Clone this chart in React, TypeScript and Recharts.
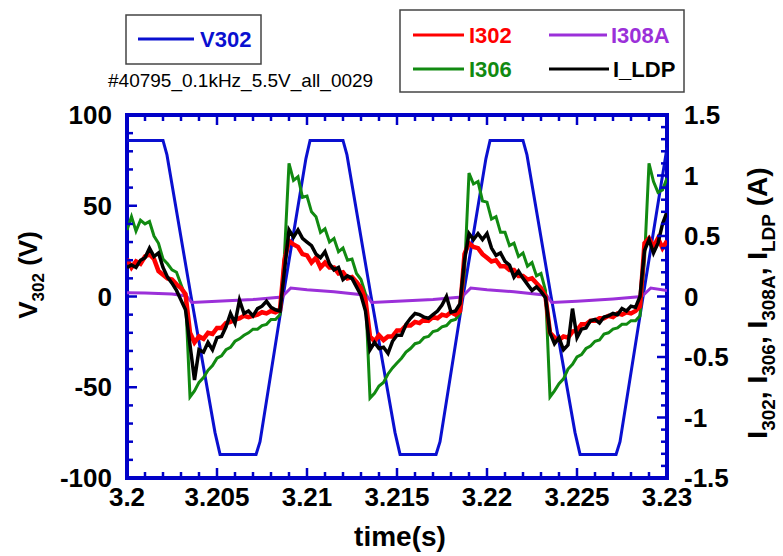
import { LineChart, Line, XAxis, YAxis, ReferenceArea } from 'recharts';

// time grid for the three current probes (s)
const tCur = [
  3.2, 3.20025, 3.2005, 3.20075, 3.201, 3.20125, 3.2015, 3.20175,
  3.202, 3.20225, 3.2025, 3.20275, 3.203, 3.20325, 3.2035, 3.20375,
  3.204, 3.20425, 3.2045, 3.20475, 3.205, 3.20525, 3.2055, 3.20575,
  3.206, 3.20625, 3.2065, 3.20675, 3.207, 3.20725, 3.2075, 3.20775,
  3.208, 3.20825, 3.2085, 3.20875, 3.209, 3.20925, 3.2095, 3.20975,
  3.21, 3.21025, 3.2105, 3.21075, 3.211, 3.21125, 3.2115, 3.21175,
  3.212, 3.21225, 3.2125, 3.21275, 3.213, 3.21325, 3.2135, 3.21375,
  3.214, 3.21425, 3.2145, 3.21475, 3.215, 3.21525, 3.2155, 3.21575,
  3.216, 3.21625, 3.2165, 3.21675, 3.217, 3.21725, 3.2175, 3.21775,
  3.218, 3.21825, 3.2185, 3.21875, 3.219, 3.21925, 3.2195, 3.21975,
  3.22, 3.22025, 3.2205, 3.22075, 3.221, 3.22125, 3.2215, 3.22175,
  3.222, 3.22225, 3.2225, 3.22275, 3.223, 3.22325, 3.2235, 3.22375,
  3.224, 3.22425, 3.2245, 3.22475, 3.225, 3.22525, 3.2255, 3.22575,
  3.226, 3.22625, 3.2265, 3.22675, 3.227, 3.22725, 3.2275, 3.22775,
  3.228, 3.22825, 3.2285, 3.22875, 3.229, 3.22925, 3.2295, 3.22975,
  3.23,
];

// I302 (A)
const i302 = [
  0.31, 0.24, 0.29, 0.27, 0.33, 0.35, 0.31, 0.21,
  0.18, 0.15, 0.14, 0.10, 0.07, 0.02, -0.30, -0.38,
  -0.33, -0.35, -0.30, -0.31, -0.26, -0.26, -0.22, -0.21,
  -0.19, -0.18, -0.16, -0.17, -0.16, -0.15, -0.13, -0.14,
  -0.12, -0.13, -0.11, 0.30, 0.46, 0.43, 0.41, 0.35,
  0.34, 0.28, 0.32, 0.24, 0.28, 0.24, 0.24, 0.19,
  0.20, 0.15, 0.16, 0.12, 0.07, -0.03, -0.33, -0.37,
  -0.32, -0.36, -0.33, -0.33, -0.28, -0.28, -0.24, -0.24,
  -0.21, -0.22, -0.19, -0.20, -0.17, -0.18, -0.15, -0.16,
  -0.13, -0.15, -0.12, 0.35, 0.44, 0.41, 0.40, 0.35,
  0.32, 0.29, 0.30, 0.25, 0.25, 0.22, 0.22, 0.17,
  0.17, 0.14, 0.15, 0.11, 0.07, 0.0, -0.30, -0.34,
  -0.36, -0.33, -0.34, -0.29, -0.28, -0.23, -0.23, -0.20,
  -0.20, -0.18, -0.18, -0.16, -0.17, -0.14, -0.15, -0.13,
  -0.14, -0.12, -0.08, 0.44, 0.48, 0.41, 0.48, 0.40,
  0.46,
];

// I306 (A)
const i306 = [
  0.55, 0.66, 0.54, 0.63, 0.60, 0.62, 0.50, 0.44,
  0.31, 0.27, 0.22, 0.20, 0.10, 0.0, -0.83, -0.78,
  -0.71, -0.67, -0.61, -0.57, -0.51, -0.49, -0.44, -0.42,
  -0.37, -0.35, -0.32, -0.30, -0.27, -0.27, -0.24, -0.23,
  -0.19, -0.19, -0.15, 0.35, 1.10, 0.96, 0.99, 0.82,
  0.83, 0.70, 0.66, 0.53, 0.56, 0.45, 0.48, 0.37,
  0.40, 0.30, 0.31, 0.19, 0.14, 0.02, -0.84, -0.80,
  -0.74, -0.71, -0.64, -0.59, -0.55, -0.51, -0.46, -0.43,
  -0.39, -0.38, -0.34, -0.33, -0.29, -0.28, -0.25, -0.24,
  -0.20, -0.19, -0.14, 0.2, 1.02, 0.93, 0.95, 0.79,
  0.78, 0.64, 0.66, 0.53, 0.53, 0.42, 0.44, 0.33,
  0.36, 0.25, 0.28, 0.17, 0.19, 0.05, -0.83, -0.78,
  -0.72, -0.68, -0.60, -0.56, -0.50, -0.48, -0.43, -0.41,
  -0.37, -0.36, -0.31, -0.30, -0.27, -0.26, -0.23, -0.23,
  -0.20, -0.20, -0.16, 0.3, 1.10, 0.95, 0.86, 0.88,
  0.98,
];

// I_LDP (A)
const iLdp = [
  0.24, 0.26, 0.24, 0.30, 0.32, 0.40, 0.33, 0.36,
  0.24, 0.16, 0.11, 0.05, -0.03, -0.11, -0.40, -0.69,
  -0.44, -0.46, -0.38, -0.44, -0.34, -0.33, -0.25, -0.14,
  -0.22, -0.03, -0.14, -0.12, -0.16, -0.10, -0.08, -0.04,
  -0.09, -0.11, -0.12, 0.22, 0.55, 0.49, 0.55, 0.48,
  0.45, 0.42, 0.35, 0.32, 0.37, 0.27, 0.22, 0.24,
  0.14, 0.17, 0.15, 0.08, 0.01, -0.12, -0.44, -0.38,
  -0.43, -0.42, -0.47, -0.37, -0.32, -0.32, -0.23, -0.18,
  -0.14, -0.15, -0.17, -0.18, -0.15, -0.12, -0.07, 0.0,
  -0.13, -0.12, -0.06, 0.30, 0.52, 0.47, 0.52, 0.47,
  0.52, 0.40, 0.34, 0.36, 0.29, 0.26, 0.16, 0.21,
  0.15, 0.10, 0.05, 0.08, 0.04, -0.01, -0.30, -0.39,
  -0.34, -0.44, -0.40, -0.10, -0.34, -0.27, -0.26, -0.20,
  -0.19, -0.22, -0.17, -0.16, -0.14, -0.15, -0.10, -0.12,
  -0.08, -0.09, 0.0, 0.38, 0.47, 0.36, 0.44, 0.60,
  0.70,
];

// V302 (V), corner points of the driving waveform
const tV = [
  3.2, 3.202, 3.20222, 3.20356, 3.20489, 3.20517, 3.20717, 3.20739, 3.20867, 3.20994,
  3.21017, 3.212, 3.21222, 3.21356, 3.21489, 3.21517, 3.21717, 3.21739, 3.21867, 3.21994,
  3.22017, 3.222, 3.22222, 3.22356, 3.22489, 3.22517, 3.22717, 3.22739, 3.22867, 3.23,
];
const v302 = [
  86, 86, 78, 0, -75, -87, -87, -80, 0, 76,
  86, 86, 78, 0, -75, -87, -87, -80, 0, 76,
  86, 86, 78, 0, -75, -87, -87, -80, 0, 82,
];

// I308A (A)
const tP = [
  3.2, 3.201, 3.2025, 3.2033, 3.2036, 3.205, 3.207, 3.2086, 3.2091, 3.21,
  3.2115, 3.2133, 3.2136, 3.215, 3.217, 3.2186, 3.2191, 3.22, 3.2215, 3.2233,
  3.2236, 3.225, 3.227, 3.2286, 3.2291, 3.23,
];
const i308a = [
  0.03, 0.028, 0.02, 0.005, -0.05, -0.04, -0.025, -0.005, 0.07, 0.055,
  0.04, 0.01, -0.05, -0.04, -0.025, -0.005, 0.07, 0.055, 0.04, 0.01,
  -0.05, -0.04, -0.02, 0.0, 0.07, 0.05,
];

const xTicks = [
  3.2, 3.201, 3.202, 3.203, 3.204, 3.205, 3.206, 3.207, 3.208, 3.209,
  3.21, 3.211, 3.212, 3.213, 3.214, 3.215, 3.216, 3.217, 3.218, 3.219,
  3.22, 3.221, 3.222, 3.223, 3.224, 3.225, 3.226, 3.227, 3.228, 3.229, 3.23,
];
const vTicks = [-100, -90, -80, -70, -60, -50, -40, -30, -20, -10, 0, 10, 20, 30, 40, 50, 60, 70, 80, 90, 100];
const iTicks = [
  -1.5, -1.4, -1.3, -1.2, -1.1, -1, -0.9, -0.8, -0.7, -0.6, -0.5, -0.4, -0.3, -0.2, -0.1, 0,
  0.1, 0.2, 0.3, 0.4, 0.5, 0.6, 0.7, 0.8, 0.9, 1, 1.1, 1.2, 1.3, 1.4, 1.5,
];

const curRows = tCur.map((t, k) => ({ t, i302: i302[k], i306: i306[k], ildp: iLdp[k] }));
const vRows = tV.map((t, k) => ({ t, v: v302[k] }));
const pRows = tP.map((t, k) => ({ t, p: i308a[k] }));

const PLOT = { left: 127, right: 667, top: 115, bottom: 478 };
const FRAME = '#0000c8';
const FONT = '"Liberation Sans", Arial, sans-serif';

function XTick(props: any) {
  const { x, payload } = props;
  const v = payload.value;
  const major = Math.round(v * 1000) % 5 === 0;
  const len = major ? 10 : 6;
  return (
    <g>
      <line x1={x} x2={x} y1={PLOT.bottom} y2={PLOT.bottom - len} stroke={FRAME} strokeWidth={2.5} />
      <line x1={x} x2={x} y1={PLOT.top} y2={PLOT.top + len} stroke={FRAME} strokeWidth={2.5} />
      {major && (
        <text x={x} y={PLOT.bottom + 28} textAnchor="middle" fontFamily={FONT} fontWeight="bold" fontSize={26} fill="#000">
          {String(v)}
        </text>
      )}
    </g>
  );
}

function VTick(props: any) {
  const { y, payload } = props;
  const v = payload.value;
  const major = v % 50 === 0;
  const len = major ? 10 : 6;
  return (
    <g>
      <line x1={PLOT.left} x2={PLOT.left + len} y1={y} y2={y} stroke={FRAME} strokeWidth={2.5} />
      {major && (
        <text x={PLOT.left - 15} y={y + 9} textAnchor="end" fontFamily={FONT} fontWeight="bold" fontSize={26} fill="#000">
          {String(v)}
        </text>
      )}
    </g>
  );
}

function ITick(props: any) {
  const { y, payload } = props;
  const v = payload.value;
  const major = Math.round(v * 10) % 5 === 0;
  const len = major ? 10 : 6;
  return (
    <g>
      <line x1={PLOT.right} x2={PLOT.right - len} y1={y} y2={y} stroke={FRAME} strokeWidth={2.5} />
      {major && (
        <text x={PLOT.right + 17} y={y + 9} textAnchor="start" fontFamily={FONT} fontWeight="bold" fontSize={26} fill="#000">
          {String(v)}
        </text>
      )}
    </g>
  );
}

function Overlay() {
  const txt = { fontFamily: FONT, fontWeight: 'bold' as const };
  return (
    <svg width={783} height={556} style={{ position: 'absolute', left: 0, top: 0, pointerEvents: 'none' }}>
      {/* V302 legend */}
      <rect x={126} y={15} width={135} height={49} fill="#fff" stroke="#444" strokeWidth={1.5} />
      <line x1={138} x2={194} y1={39} y2={39} stroke="#0a10d0" strokeWidth={3} />
      <text x={200} y={47} fontSize={22} fill="#0a10d0" {...txt}>V302</text>

      {/* current legend */}
      <rect x={400} y={10} width={284} height={82} fill="#fff" stroke="#444" strokeWidth={1.5} />
      <line x1={413} x2={464} y1={35} y2={35} stroke="#ff0000" strokeWidth={3} />
      <text x={469} y={43} fontSize={22} fill="#ff0000" {...txt}>I302</text>
      <line x1={549} x2={607} y1={35} y2={35} stroke="#9b30d9" strokeWidth={3} />
      <text x={611} y={43} fontSize={22} fill="#9b30d9" {...txt}>I308A</text>
      <line x1={413} x2={464} y1={69} y2={69} stroke="#118a11" strokeWidth={3} />
      <text x={469} y={77} fontSize={22} fill="#118a11" {...txt}>I306</text>
      <line x1={549} x2={609} y1={69} y2={69} stroke="#000" strokeWidth={3} />
      <text x={613} y={77} fontSize={22} fill="#000" {...txt}>I_LDP</text>

      <text x={108} y={87} fontFamily={FONT} fontSize={19} fill="#000">#40795_0.1kHz_5.5V_all_0029</text>

      {/* axis titles */}
      <text transform="translate(37, 275) rotate(-90)" textAnchor="middle" fontSize={26} fill="#000" {...txt}>
        V<tspan fontSize={17} dy={7}>302</tspan>
        <tspan dy={-7}> (V)</tspan>
      </text>
      <text transform="translate(767, 303) rotate(-90)" textAnchor="middle" fontSize={28} fill="#000" {...txt}>
        I<tspan fontSize={19} dy={8}>302</tspan>
        <tspan dy={-8}>, I</tspan>
        <tspan fontSize={19} dy={8}>306</tspan>
        <tspan dy={-8}>, I</tspan>
        <tspan fontSize={19} dy={8}>308A</tspan>
        <tspan dy={-8}>, I</tspan>
        <tspan fontSize={19} dy={8}>LDP</tspan>
        <tspan dy={-8}> (A)</tspan>
      </text>
      <text x={400} y={546} textAnchor="middle" fontSize={28} fill="#000" {...txt}>time(s)</text>
    </svg>
  );
}

export default function App() {
  return (
    <div style={{ position: 'absolute', left: 0, top: 0, width: 783, height: 556, background: '#fff' }}>
      <LineChart width={783} height={556} margin={{ top: 115, right: 46, bottom: 38, left: 57 }}>
        <XAxis
          type="number"
          dataKey="t"
          domain={[3.2, 3.23]}
          ticks={xTicks}
          interval={0}
          allowDataOverflow
          height={40}
          tickSize={0}
          tickMargin={0}
          axisLine={false}
          tickLine={false}
          tick={(p: any) => <XTick {...p} />}
        />
        <YAxis
          yAxisId="v"
          orientation="left"
          domain={[-100, 100]}
          ticks={vTicks}
          interval={0}
          allowDataOverflow
          width={70}
          tickSize={0}
          axisLine={false}
          tickLine={false}
          tick={(p: any) => <VTick {...p} />}
        />
        <YAxis
          yAxisId="i"
          orientation="right"
          domain={[-1.5, 1.5]}
          ticks={iTicks}
          interval={0}
          allowDataOverflow
          width={70}
          tickSize={0}
          axisLine={false}
          tickLine={false}
          tick={(p: any) => <ITick {...p} />}
        />
        <Line data={vRows} dataKey="v" yAxisId="v" type="linear" stroke="#0a10d0" strokeWidth={3} dot={false} isAnimationActive={false} />
        <Line data={pRows} dataKey="p" yAxisId="i" type="linear" stroke="#9b30d9" strokeWidth={3} dot={false} isAnimationActive={false} />
        <Line data={curRows} dataKey="i306" yAxisId="i" type="linear" stroke="#118a11" strokeWidth={3} dot={false} isAnimationActive={false} />
        <Line data={curRows} dataKey="i302" yAxisId="i" type="linear" stroke="#ff0000" strokeWidth={4.5} dot={false} isAnimationActive={false} />
        <Line data={curRows} dataKey="ildp" yAxisId="i" type="linear" stroke="#000000" strokeWidth={3.5} dot={false} isAnimationActive={false} />
        <ReferenceArea yAxisId="v" x1={3.2} x2={3.23} y1={-100} y2={100} fill="none" fillOpacity={0} stroke={FRAME} strokeWidth={4} ifOverflow="visible" />
      </LineChart>
      <Overlay />
    </div>
  );
}
